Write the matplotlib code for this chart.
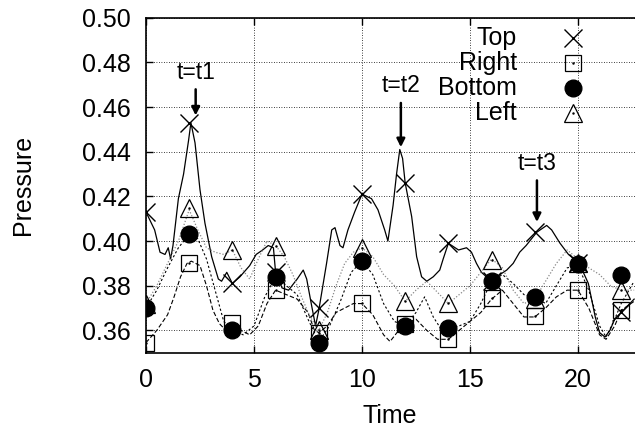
import matplotlib
matplotlib.use("Agg")
import matplotlib.pyplot as plt

plt.rcParams['font.family'] = ['Liberation Sans', 'DejaVu Sans']
plt.rcParams['font.size'] = 18

# curva "Top" (linea continua)
t_top = [0.0, 0.4, 0.65, 0.88, 1.03, 1.14, 1.25, 1.5, 1.74, 1.97, 2.08, 2.27, 2.5, 2.73,
         3.04, 3.35, 3.5, 3.74, 4.0, 4.35, 4.8, 5.1, 5.4, 5.66, 5.9, 6.0, 6.3, 6.6, 7.0,
         7.28, 7.44, 7.67, 7.85, 8.0, 8.36, 8.6, 8.75, 8.98, 9.12, 9.35, 9.66, 10.0,
         10.44, 10.74, 11.05, 11.2, 11.44, 11.6, 11.75, 11.88, 12.0, 12.3, 12.53, 12.76,
         13.0, 13.3, 13.6, 13.76, 14.0, 14.47, 14.84, 15.07, 15.3, 15.53, 15.76, 16.0,
         16.39, 16.7, 17.0, 17.3, 17.6, 17.93, 18.1, 18.55, 18.78, 19.17, 19.56, 19.94,
         20.2, 20.48, 20.8, 21.0, 21.25, 21.48, 21.7, 22.0, 22.6]
p_top = [0.413, 0.405, 0.395, 0.394, 0.397, 0.392, 0.398, 0.419, 0.430, 0.445, 0.453,
         0.444, 0.423, 0.408, 0.393, 0.383, 0.382, 0.386, 0.381, 0.384, 0.389, 0.394,
         0.396, 0.398, 0.397, 0.386, 0.379, 0.378, 0.383, 0.387, 0.383, 0.371, 0.362,
         0.369, 0.390, 0.405, 0.406, 0.398, 0.397, 0.405, 0.413, 0.421, 0.419, 0.414,
         0.405, 0.400, 0.416, 0.430, 0.441, 0.437, 0.426, 0.411, 0.393, 0.384, 0.382,
         0.384, 0.387, 0.392, 0.399, 0.396, 0.397, 0.395, 0.390, 0.386, 0.384, 0.382,
         0.385, 0.387, 0.390, 0.395, 0.398, 0.402, 0.404, 0.407, 0.405, 0.399, 0.394,
         0.391, 0.387, 0.381, 0.366, 0.359, 0.357, 0.360, 0.365, 0.368, 0.374]

# curvas "Right", "Bottom", "Left"
t_right = [0.0, 0.5, 1.0, 1.3, 1.6, 1.9, 2.1, 2.5, 2.8, 3.1, 3.4, 3.7, 4.0, 4.4, 4.8,
           5.2, 5.6, 6.0, 6.5, 7.0, 7.5, 7.8, 8.0, 8.4, 8.8, 9.2, 9.6, 10.0, 10.5, 11.0,
           11.3, 11.7, 12.0, 12.5, 13.0, 13.5, 14.0, 14.5, 15.0, 15.5, 16.0, 16.5, 17.0,
           17.5, 18.0, 18.5, 19.0, 19.5, 20.0, 20.5, 21.0, 21.3, 21.7, 22.0, 22.6]
p_right = [0.3545, 0.360, 0.367, 0.375, 0.384, 0.390, 0.391, 0.389, 0.380, 0.369, 0.363,
           0.360, 0.363, 0.360, 0.358, 0.362, 0.372, 0.378, 0.376, 0.374, 0.368, 0.360,
           0.359, 0.362, 0.368, 0.370, 0.372, 0.372, 0.367, 0.358, 0.355, 0.360, 0.363,
           0.365, 0.360, 0.356, 0.356, 0.360, 0.364, 0.368, 0.374, 0.378, 0.372, 0.366,
           0.366, 0.370, 0.375, 0.378, 0.378, 0.370, 0.358, 0.356, 0.362, 0.369, 0.373]

t_bottom = [0.0, 0.5, 1.0, 1.5, 2.0, 2.4, 2.8, 3.2, 3.6, 4.0, 4.5, 5.0, 5.5, 6.0, 6.5,
            7.0, 7.5, 8.0, 8.5, 9.0, 9.5, 10.0, 10.5, 11.0, 11.5, 12.0, 12.5, 12.9,
            13.3, 13.7, 14.0, 14.5, 15.0, 15.5, 16.0, 16.5, 17.0, 17.5, 18.0, 18.5,
            19.0, 19.5, 20.0, 20.5, 21.0, 21.3, 21.7, 22.0, 22.6]
p_bottom = [0.370, 0.378, 0.388, 0.397, 0.403, 0.401, 0.392, 0.378, 0.364, 0.360, 0.358,
            0.362, 0.375, 0.384, 0.380, 0.376, 0.365, 0.355, 0.362, 0.373, 0.386, 0.391,
            0.385, 0.372, 0.364, 0.362, 0.368, 0.375, 0.366, 0.360, 0.361, 0.362, 0.364,
            0.372, 0.382, 0.385, 0.381, 0.376, 0.375, 0.372, 0.380, 0.388, 0.389, 0.378,
            0.362, 0.357, 0.365, 0.372, 0.382]

t_left = [0.0, 0.5, 1.0, 1.5, 2.0, 2.4, 2.8, 3.2, 3.6, 4.0, 4.4, 4.8, 5.2, 5.6, 6.0,
          6.4, 6.8, 7.2, 7.6, 8.0, 8.4, 8.8, 9.2, 9.6, 10.0, 10.5, 11.0, 11.5, 12.0,
          12.5, 13.0, 13.5, 14.0, 14.5, 15.0, 15.5, 16.0, 16.5, 17.0, 17.5, 18.0, 18.5,
          19.0, 19.5, 20.0, 20.5, 21.0, 21.5, 22.0, 22.6]
p_left = [0.372, 0.380, 0.390, 0.400, 0.414, 0.405, 0.397, 0.395, 0.394, 0.396, 0.388,
          0.383, 0.392, 0.400, 0.398, 0.393, 0.385, 0.375, 0.366, 0.360, 0.368, 0.380,
          0.390, 0.395, 0.397, 0.393, 0.385, 0.380, 0.373, 0.378, 0.382, 0.377, 0.372,
          0.376, 0.380, 0.386, 0.392, 0.388, 0.378, 0.372, 0.374, 0.382, 0.390, 0.396,
          0.392, 0.388, 0.385, 0.380, 0.378, 0.378]

# marcadores cada 2 unidades de tiempo
t_mark = [0, 2, 4, 6, 8, 10, 12, 14, 16, 18, 20, 22]
m_top = [0.413, 0.453, 0.381, 0.386, 0.370, 0.421, 0.426, 0.399, 0.382, 0.404, 0.390, 0.368]
m_right = [0.3545, 0.390, 0.3634, 0.378, 0.359, 0.3724, 0.3627, 0.356, 0.3746, 0.3664, 0.378, 0.369]
m_bottom = [0.370, 0.403, 0.360, 0.384, 0.3545, 0.391, 0.362, 0.361, 0.382, 0.375, 0.3895, 0.385]
m_left = [0.372, 0.4148, 0.396, 0.398, 0.360, 0.397, 0.373, 0.3724, 0.3917, 0.374, 0.390, 0.3783]

nombres = ['Top', 'Right', 'Bottom', 'Left']

fig = plt.figure(figsize=(6.35, 4.32), dpi=100)
ax = fig.add_axes([0.2299, 0.1836, 0.7701, 0.7752])

ax.plot(t_top, p_top, color='black', lw=0.9, ls='-')
ax.plot(t_right, p_right, color='black', lw=0.8, ls=(0, (4, 2)))
ax.plot(t_bottom, p_bottom, color='black', lw=0.8, ls=(0, (2, 2)))
ax.plot(t_left, p_left, color='#888888', lw=0.9, ls=(0, (1, 1.5)))

# estilos de marcador
estilos = [
    dict(marker='x', ms=13, mew=1.0, color='black'),
    dict(marker='s', ms=12, mew=0.9, mfc='none', mec='black'),
    dict(marker='o', ms=12, color='black'),
    dict(marker='^', ms=13, mew=0.9, mfc='none', mec='black'),
]
punto = dict(marker='.', ms=1.5, color='black')

ax.plot(t_mark, m_top, ls='none', **estilos[0])
ax.plot(t_mark, m_right, ls='none', **estilos[1])
ax.plot(t_mark, m_right, ls='none', **punto)
ax.plot(t_mark, m_left, ls='none', **estilos[3])
ax.plot(t_mark, m_left, ls='none', **punto)
ax.plot(t_mark, m_bottom, ls='none', **estilos[2])

ax.set_xlim(0, 22.64)
ax.set_ylim(0.35, 0.50)
ax.set_xticks([0, 5, 10, 15, 20])
ax.set_yticks([0.36, 0.38, 0.40, 0.42, 0.44, 0.46, 0.48, 0.50])
ax.set_yticklabels(['%.2f' % v for v in ax.get_yticks()])
ax.grid(True, color='black', ls=(0, (1, 2)), lw=0.6)
ax.tick_params(axis='both', direction='in', length=5, width=1, top=True, right=False)
ax.tick_params(axis='y', pad=11)
ax.tick_params(axis='x', pad=11)
ax.spines['right'].set_visible(False)
for s in ['left', 'bottom', 'top']:
    ax.spines[s].set_linewidth(1.2)

# leyenda a mano: texto alineado a la derecha y marcador despues
fw, fh = 635.0, 432.0
for i in range(4):
    y = 1 - (38 + 25 * i) / fh
    fig.text(517 / fw, y, nombres[i], ha='right', va='center')
    fig.add_artist(plt.Line2D([573 / fw], [y], ls='none', transform=fig.transFigure,
                              **estilos[i]))
    if i in (1, 3):
        fig.add_artist(plt.Line2D([573 / fw], [y], ls='none', transform=fig.transFigure,
                                  **punto))

# flechas
arrow = dict(arrowstyle='-|>', lw=1.8, color='black', mutation_scale=12)
ax.annotate('t=t1', xy=(2.3, 0.455), xytext=(2.3, 0.4756), ha='center', va='center',
            fontsize=16.5, arrowprops=arrow)
ax.annotate('t=t2', xy=(11.8, 0.4408), xytext=(11.8, 0.4695), ha='center', va='center',
            fontsize=16.5, arrowprops=arrow)
ax.annotate('t=t3', xy=(18.1, 0.4073), xytext=(18.1, 0.4348), ha='center', va='center',
            fontsize=16.5, arrowprops=arrow)

fig.text(23 / fw, 1 - 185 / fh, 'Pressure', rotation=90, ha='center', va='center')
fig.text(390 / fw, 1 - 416 / fh, 'Time', ha='center', va='center')

fig.savefig('out.png', dpi=100)
